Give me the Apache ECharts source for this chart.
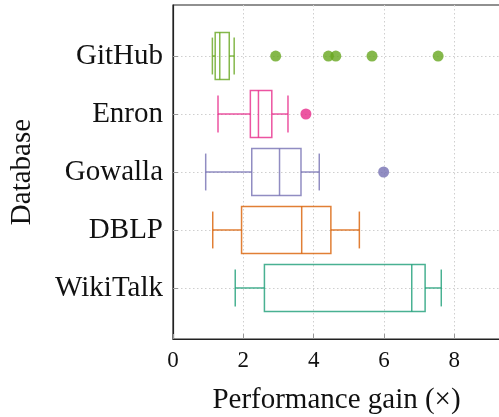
<!DOCTYPE html>
<html>
<head>
<meta charset="utf-8">
<script src="https://cdn.jsdelivr.net/npm/echarts@6/dist/echarts.min.js"></script>
<style>
html,body{margin:0;padding:0;background:#fff;}
#chart{width:499px;height:417px;}
</style>
</head>
<body>
<div id="chart"></div>
<script>
// Categories from top to bottom
const categories = ['GitHub', 'Enron', 'Gowalla', 'DBLP', 'WikiTalk'];
const colors = ['#66a61e', '#e7298a', '#7570b3', '#d95f02', '#1b9e77'];
const whiskerLow  = [1.12, 1.28, 0.93, 1.13, 1.77];
const q1          = [1.20, 2.20, 2.24, 1.95, 2.60];
const median      = [1.33, 2.43, 3.03, 3.66, 6.79];
const q3          = [1.60, 2.81, 3.64, 4.49, 7.17];
const whiskerHigh = [1.74, 3.27, 4.16, 5.30, 7.63];
const outlierCategory = ['GitHub', 'GitHub', 'GitHub', 'GitHub', 'GitHub', 'Enron', 'Gowalla'];
const outlierValue    = [2.92, 4.42, 4.63, 5.66, 7.54, 3.78, 5.99];
const xTicks = [0, 2, 4, 6, 8];

const N = categories.length;
const pos = i => N - i; // GitHub at top
const yTicks = categories.map((c, i) => pos(i));

const boxData = categories.map((c, i) => [pos(i), whiskerLow[i], q1[i], median[i], q3[i], whiskerHigh[i], i]);
const outData = outlierValue.map((v, k) => {
  const i = categories.indexOf(outlierCategory[k]);
  return { value: [v, pos(i)], itemStyle: { color: colors[i] } };
});

const BOX_H = 0.405, CAP_H = 0.318;
function fade(hex, a) {
  const r = parseInt(hex.slice(1,3),16), g = parseInt(hex.slice(3,5),16), b = parseInt(hex.slice(5,7),16);
  return 'rgba(' + r + ',' + g + ',' + b + ',' + a + ')';
}
function renderItem(params, api) {
  const y = api.value(0);
  const lo = api.value(1), a = api.value(2), m = api.value(3), b = api.value(4), hi = api.value(5);
  const ci = api.value(6);
  const col = fade(colors[ci], 0.8);
  const st = { stroke: col, lineWidth: 1.5, fill: null };
  const line = (x1, y1, x2, y2) => {
    const p1 = api.coord([x1, y1]), p2 = api.coord([x2, y2]);
    return { type: 'line', shape: { x1: p1[0], y1: p1[1], x2: p2[0], y2: p2[1] }, style: st };
  };
  const tl = api.coord([a, y + BOX_H]), br = api.coord([b, y - BOX_H]);
  return {
    type: 'group',
    children: [
      line(lo, y, a, y),
      line(b, y, hi, y),
      line(lo, y - CAP_H, lo, y + CAP_H),
      line(hi, y - CAP_H, hi, y + CAP_H),
      { type: 'rect', shape: { x: tl[0], y: tl[1], width: br[0] - tl[0], height: br[1] - tl[1] }, style: st },
      line(m, y - BOX_H, m, y + BOX_H)
    ]
  };
}

const FONT = 'Liberation Serif';
const chart = echarts.init(document.getElementById('chart'), null, { renderer: 'canvas' });
chart.setOption({
  animation: false,
  backgroundColor: '#fff',
  grid: { left: 173, right: -1, top: 5, bottom: 78, containLabel: false, outerBoundsMode: 'none',
    show: true, borderColor: '#222', borderWidth: 1.2, backgroundColor: 'transparent' },
  xAxis: {
    type: 'value', min: 0, max: 9.3,
    name: 'Performance gain (×)', nameLocation: 'middle', nameGap: 47,
    nameTextStyle: { fontFamily: FONT, fontSize: 29, color: '#111' },
    axisLine: { show: true, lineStyle: { color: '#222', width: 1.2 } },
    axisTick: { show: true, inside: true, length: 5, customValues: xTicks, lineStyle: { color: '#999' } },
    axisLabel: { customValues: xTicks, fontFamily: FONT, fontSize: 23, color: '#111', margin: 10 },
    splitLine: { show: true, lineStyle: { color: '#cfcfcf', type: [1.5, 2.5], width: 1 } }
  },
  yAxis: {
    type: 'value', min: 0.12, max: 5.88,
    name: 'Database', nameLocation: 'middle', nameGap: 136, nameRotate: 90,
    nameTextStyle: { fontFamily: FONT, fontSize: 29, color: '#111' },
    axisLine: { show: true, lineStyle: { color: '#222', width: 1.2 } },
    axisTick: { show: true, inside: true, length: 5, customValues: yTicks, lineStyle: { color: '#999' } },
    axisLabel: { customValues: yTicks, fontFamily: FONT, fontSize: 29, color: '#111', margin: 10,
      formatter: v => categories[N - Math.round(v)] },
    splitLine: { show: true, lineStyle: { color: '#cfcfcf', type: [1.5, 2.5], width: 1 } }
  },
  series: [
    { type: 'custom', renderItem: renderItem, data: boxData, encode: { x: [1, 2, 3, 4, 5], y: 0 }, clip: true, z: 3 },
    { type: 'scatter', data: outData, symbolSize: 11, z: 4 }
  ]
});
</script>
</body>
</html>
